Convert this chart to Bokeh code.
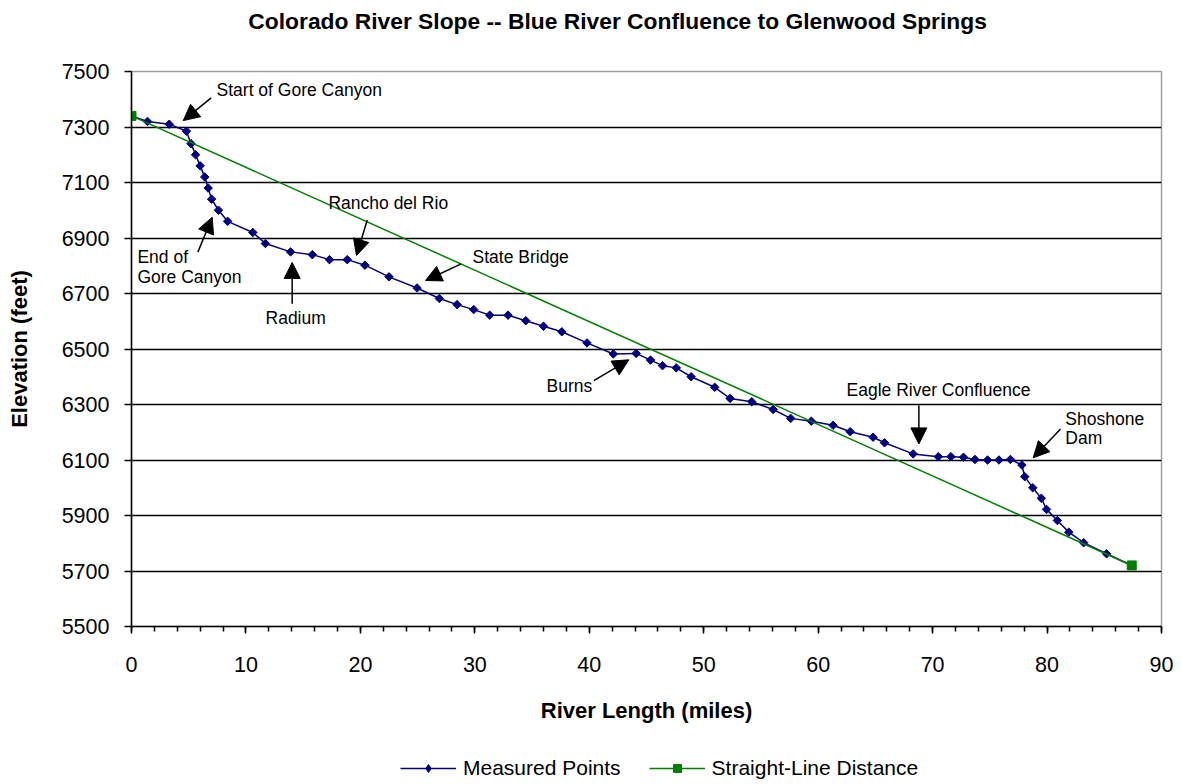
from bokeh.plotting import figure
from bokeh.layouts import column
from bokeh.models import Range1d, FixedTicker, Label, Arrow, NormalHead, Legend, LegendItem
from bokeh.embed import file_html
from bokeh.resources import INLINE
import math

# ---- data ----
miles = [0, 1.4, 3.3, 4.8, 5.2, 5.6, 6.0, 6.4, 6.7, 7.0,
         7.6, 8.4, 10.6, 11.7, 13.9, 15.8, 17.3, 18.85, 20.4, 22.5,
         24.95, 26.9, 28.45, 29.9, 31.3, 32.9, 34.45, 36.0, 37.6, 39.8,
         42.1, 44.1, 45.35, 46.4, 47.6, 48.9, 50.96, 52.3, 54.2, 56.07,
         57.6, 59.4, 61.3, 62.8, 64.8, 65.8, 68.3, 70.5, 71.6, 72.7,
         73.7, 74.8, 75.8, 76.8, 77.8, 78.05, 78.75, 79.5, 79.95, 80.9,
         81.9, 83.2, 85.2, 87.4]
elevation = [7340, 7320, 7310, 7285, 7240, 7200, 7160, 7120, 7080, 7040,
             7000, 6960, 6920, 6880, 6850, 6840, 6822, 6822, 6802, 6760,
             6720, 6682, 6660, 6642, 6622, 6622, 6602, 6582, 6562, 6522,
             6482, 6484, 6460, 6440, 6432, 6400, 6362, 6322, 6310, 6282,
             6250, 6240, 6225, 6202, 6182, 6162, 6122, 6112, 6112, 6110,
             6102, 6100, 6100, 6102, 6082, 6040, 6000, 5962, 5922, 5882,
             5840, 5802, 5762, 5720]
straight_miles = [0, 87.4]
straight_elev = [7340, 5720]

x_ticks = [0, 10, 20, 30, 40, 50, 60, 70, 80, 90]
y_ticks = [5500, 5700, 5900, 6100, 6300, 6500, 6700, 6900, 7100, 7300, 7500]

series_names = ["Measured Points", "Straight-Line Distance"]
title_text = "Colorado River Slope -- Blue River Confluence to Glenwood Springs"
x_label = "River Length (miles)"
y_label = "Elevation (feet)"

# annotation texts: (text, x, y)
notes = [
    ("Start of Gore Canyon", 7.43, 7435),
    ("End of", 0.52, 6831),
    ("Gore Canyon", 0.52, 6761),
    ("Radium", 11.71, 6610),
    ("Rancho del Rio", 17.21, 7026),
    ("State Bridge", 29.8, 6833),
    ("Burns", 36.26, 6368),
    ("Eagle River Confluence", 62.48, 6354),
    ("Shoshone", 81.6, 6246),
    ("Dam", 81.6, 6179),
]
# arrows: (x_start, y_start, x_end(tip), y_end(tip))
arrows = [
    (6.96, 7405, 4.52, 7323),
    (5.80, 6849, 7.05, 6975),
    (14.04, 6663, 14.04, 6812),
    (20.6, 6965, 19.66, 6837),
    (28.81, 6807, 25.69, 6747),
    (40.4, 6386, 43.46, 6461),
    (68.8, 6296, 68.8, 6158),
    (81.18, 6212, 78.79, 6108),
]

FONT = "Liberation Sans"
W = 1181
BLUE = "#000080"
GREEN = "#008000"

# ---- title strip ----
pt = figure(width=W, height=40, output_backend="svg", toolbar_location=None,
            x_range=Range1d(0, W), y_range=Range1d(0, 40),
            x_axis_type=None, y_axis_type=None,
            min_border_left=0, min_border_right=0, min_border_top=0, min_border_bottom=0)
pt.outline_line_color = None
pt.xgrid.grid_line_color = None
pt.ygrid.grid_line_color = None
pt.add_layout(Label(x=134, y=20, text=title_text, text_font=FONT, text_font_size="22.8px",
                    text_font_style="bold", text_color="black", text_align="left",
                    text_baseline="middle"))

# ---- main plot ----
p = figure(width=W, height=705, output_backend="svg", toolbar_location=None,
           x_range=Range1d(0, 90), y_range=Range1d(5500, 7500),
           min_border_left=131, min_border_right=20, min_border_top=31, min_border_bottom=119)
p.background_fill_color = "white"
p.border_fill_color = "white"
p.outline_line_color = "#a0a0a0"
p.outline_line_width = 1.5

p.xaxis.ticker = FixedTicker(ticks=x_ticks, minor_ticks=list(range(0, 91, 2)))
p.yaxis.ticker = FixedTicker(ticks=y_ticks)
for ax in (p.xaxis[0], p.yaxis[0]):
    ax.axis_line_color = "black"
    ax.axis_line_width = 1.5
    ax.major_tick_line_color = "black"
    ax.major_tick_line_width = 1.5
    ax.major_tick_in = 0
    ax.major_tick_out = 7
    ax.minor_tick_in = 0
    ax.major_label_text_font = FONT
    ax.major_label_text_font_size = "21.5px"
    ax.major_label_text_color = "black"
    ax.axis_label_text_font = FONT
    ax.axis_label_text_font_size = "22px"
    ax.axis_label_text_font_style = "bold"
    ax.axis_label_text_color = "black"
p.xaxis.minor_tick_out = 5
p.xaxis.minor_tick_line_color = "black"
p.xaxis.minor_tick_line_width = 1.5
p.yaxis.minor_tick_out = 0
p.yaxis.minor_tick_line_color = None
p.xaxis.major_label_standoff = 23
p.yaxis.major_label_standoff = 15
p.xaxis.axis_label = x_label
p.yaxis.axis_label = y_label
p.xaxis.axis_label_standoff = 23
p.yaxis.axis_label_standoff = 27

p.xgrid.grid_line_color = None
p.ygrid.grid_line_color = "black"
p.ygrid.grid_line_width = 1.3

p.line(miles, elevation, line_color=BLUE, line_width=1.5)
p.scatter(miles, elevation, marker="square", angle=math.pi / 4, size=6,
          fill_color=BLUE, line_color=BLUE, line_width=1)
p.line(straight_miles, straight_elev, line_color=GREEN, line_width=1.5)
p.scatter(straight_miles, straight_elev, marker="square", size=9,
          fill_color=GREEN, line_color=GREEN)

for (txt, x, y) in notes:
    p.add_layout(Label(x=x, y=y, text=txt, text_font=FONT, text_font_size="17.5px",
                       text_color="black", text_baseline="middle", text_align="left"))
for (xs, ys, xe, ye) in arrows:
    p.add_layout(Arrow(end=NormalHead(size=16, fill_color="black", line_color="black", line_width=1),
                       x_start=xs, y_start=ys, x_end=xe, y_end=ye,
                       line_color="black", line_width=1.5))

# ---- legend strip ----
pl = figure(width=W, height=39, output_backend="svg", toolbar_location=None,
            x_range=Range1d(0, W), y_range=Range1d(0, 39),
            x_axis_type=None, y_axis_type=None,
            min_border_left=0, min_border_right=0, min_border_top=0, min_border_bottom=0)
pl.outline_line_color = None
pl.xgrid.grid_line_color = None
pl.ygrid.grid_line_color = None
# same series drawn in this strip (outside its visible range) so the legend shows their styles
lg1 = pl.line(miles, elevation, line_color=BLUE, line_width=1.5)
sg1 = pl.scatter(miles, elevation, marker="diamond", size=10,
                 fill_color=BLUE, line_color=BLUE, line_width=1)
lg2 = pl.line(straight_miles, straight_elev, line_color=GREEN, line_width=1.5)
sg2 = pl.scatter(straight_miles, straight_elev, marker="square", size=9,
                 fill_color=GREEN, line_color=GREEN)
legend = Legend(items=[LegendItem(label=series_names[0], renderers=[lg1, sg1]),
                       LegendItem(label=series_names[1], renderers=[lg2, sg2])],
                orientation="horizontal", location=(269, 4),
                glyph_width=56, glyph_height=20, label_height=20, label_standoff=7,
                spacing=28, padding=0, margin=0, border_line_color=None,
                background_fill_alpha=0, label_text_font=FONT, label_text_font_size="21px",
                label_text_color="black")
pl.add_layout(legend)

layout = column(pt, p, pl, spacing=0)
open("out.html", "w").write(file_html(layout, INLINE))
